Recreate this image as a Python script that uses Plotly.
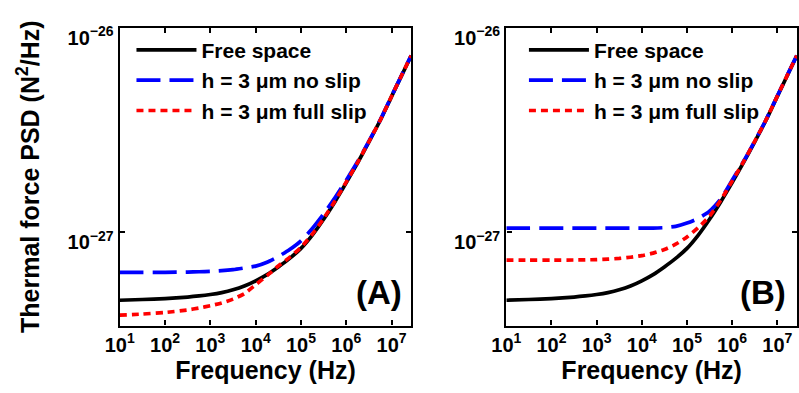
import plotly.graph_objects as go

# ---------------- data ----------------
freq_hz = [10, 31.6, 100, 316, 562, 1000, 1780, 3160, 5620,
           1e4, 1.78e4, 3.16e4, 5.62e4, 1e5, 1.78e5, 3.16e5, 5.62e5,
           1e6, 1.78e6, 3.16e6, 5.62e6, 1e7, 1.78e7, 2.7e7]

# PSD values in units of 1e-28 N^2/Hz
free_space = [4.66, 4.70, 4.75, 4.83, 4.89, 4.97, 5.08, 5.24, 5.47,
              5.80, 6.22, 6.78, 7.46, 8.35, 9.70, 11.59, 14.13,
              17.5, 21.9, 27.7, 35.3, 46.2, 60.3, 73.0]

noslip_A = [6.38, 6.38, 6.38, 6.40, 6.42, 6.45, 6.50, 6.58, 6.70,
            6.84, 7.15, 7.62, 8.25, 9.10, 10.45, 12.3, 14.75,
            18.0, 22.2, 27.9, 35.5, 46.4, 60.5, 73.2]
fullslip_A = [3.94, 3.99, 4.06, 4.18, 4.27, 4.38, 4.52, 4.72, 5.02,
              5.55, 6.15, 6.85, 7.55, 8.45, 9.80, 11.70, 14.25,
              17.65, 22.0, 27.8, 35.4, 46.3, 60.4, 73.1]

noslip_B = [10.5, 10.5, 10.5, 10.5, 10.5, 10.5, 10.5, 10.5, 10.5,
            10.5, 10.5, 10.55, 10.7, 11.1, 11.7, 12.7, 14.6,
            18.0, 22.2, 27.9, 35.5, 46.4, 60.5, 73.2]
fullslip_B = [7.32, 7.32, 7.32, 7.33, 7.34, 7.36, 7.40, 7.46, 7.56,
              7.70, 7.92, 8.25, 8.75, 9.50, 10.55, 12.0, 14.4,
              17.8, 22.1, 27.85, 35.45, 46.35, 60.4, 73.1]

names = ["Free space", "h = 3 \u03bcm no slip", "h = 3 \u03bcm full slip"]
panel_labels = ["(A)", "(B)"]

x_tickvals = [1e1, 1e2, 1e3, 1e4, 1e5, 1e6, 1e7]
x_ticktext = ["10<sup>1</sup>", "10<sup>2</sup>", "10<sup>3</sup>", "10<sup>4</sup>",
              "10<sup>5</sup>", "10<sup>6</sup>", "10<sup>7</sup>"]
y_tickvals = [1e-27, 1e-26]
y_ticktext = ["10<sup>\u221227</sup>", "10<sup>\u221226</sup>"]

SCALE = 1e-28
FONT = "Liberation Sans, Arial, Helvetica, sans-serif"

W, H = 799, 393

def scaled(v):
    return [a * SCALE for a in v]

fig = go.Figure()

styles = [
    dict(color="#000000", width=3.7, dash="solid"),
    dict(color="#0000FF", width=3.7, dash="24px,9px"),
    dict(color="#FF0000", width=3.7, dash="7px,5px"),
]

panels = [
    ("x", "y", "legend", [free_space, noslip_A, fullslip_A]),
    ("x2", "y2", "legend2", [free_space, noslip_B, fullslip_B]),
]

for xa, ya, leg, series in panels:
    for name, vals, st in zip(names, series, styles):
        fig.add_trace(go.Scatter(
            x=freq_hz, y=scaled(vals), name=name, mode="lines",
            line=dict(color=st["color"], width=st["width"], dash=st["dash"],
                      shape="spline", smoothing=0.6),
            xaxis=xa, yaxis=ya, legend=leg, hoverinfo="skip",
        ))

# geometry (pixels -> paper fractions)
y_dom = [1 - 325 / H, 1 - 24 / H]
xdomA = [107 / W, 405 / W]
xdomB = [502 / W, 1.0]

axis_common = dict(
    type="log", showgrid=False, zeroline=False,
    showline=True, linecolor="black", linewidth=2.4, mirror="ticks",
    ticks="inside", ticklen=5, tickwidth=2, tickcolor="black",
)

xrange_log = [1, 7.436]
yrange_log = [-27.456, -26.0]

tickfont = dict(family=FONT, size=20, color="black", weight="bold")
titlefont = dict(family=FONT, size=25, color="black", weight="bold")
legfont = dict(family=FONT, size=21, color="black", weight="bold")

fig.update_layout(
    width=W, height=H,
    margin=dict(l=0, r=0, t=0, b=0),
    paper_bgcolor="white", plot_bgcolor="white",
    showlegend=True,
    xaxis=dict(axis_common, domain=xdomA, range=xrange_log, anchor="y",
               tickvals=x_tickvals, ticktext=x_ticktext, tickfont=tickfont,
               title=dict(text="Frequency (Hz)", font=titlefont, standoff=6)),
    yaxis=dict(axis_common, domain=y_dom, range=yrange_log, anchor="x",
               tickvals=y_tickvals, ticktext=y_ticktext, tickfont=tickfont,
               ticklabelshift=10,
               title=dict(text="Thermal force PSD (N<sup>2</sup>/Hz)", font=titlefont, standoff=21)),
    xaxis2=dict(axis_common, domain=xdomB, range=xrange_log, anchor="y2",
                tickvals=x_tickvals, ticktext=x_ticktext, tickfont=tickfont,
                title=dict(text="Frequency (Hz)", font=titlefont, standoff=6)),
    yaxis2=dict(axis_common, domain=y_dom, range=yrange_log, anchor="x2",
                tickvals=y_tickvals, ticktext=y_ticktext, tickfont=tickfont,
                ticklabelshift=10),
    legend=dict(x=119 / W, y=1 - 26 / H, xanchor="left", yanchor="top",
                bgcolor="rgba(0,0,0,0)", borderwidth=0, itemwidth=60,
                font=legfont, tracegroupgap=0),
    legend2=dict(x=520 / W, y=1 - 26 / H, xanchor="left", yanchor="top",
                 bgcolor="rgba(0,0,0,0)", borderwidth=0, itemwidth=60,
                 font=legfont, tracegroupgap=0),
)

for label, xr in zip(panel_labels, [397 / W, 790 / W]):
    fig.add_annotation(text=label, xref="paper", yref="paper", x=xr, y=1 - 291 / H,
                       xanchor="right", yanchor="middle", showarrow=False,
                       font=dict(family=FONT, size=33, color="black", weight="bold"))

fig.write_html("out.html")
